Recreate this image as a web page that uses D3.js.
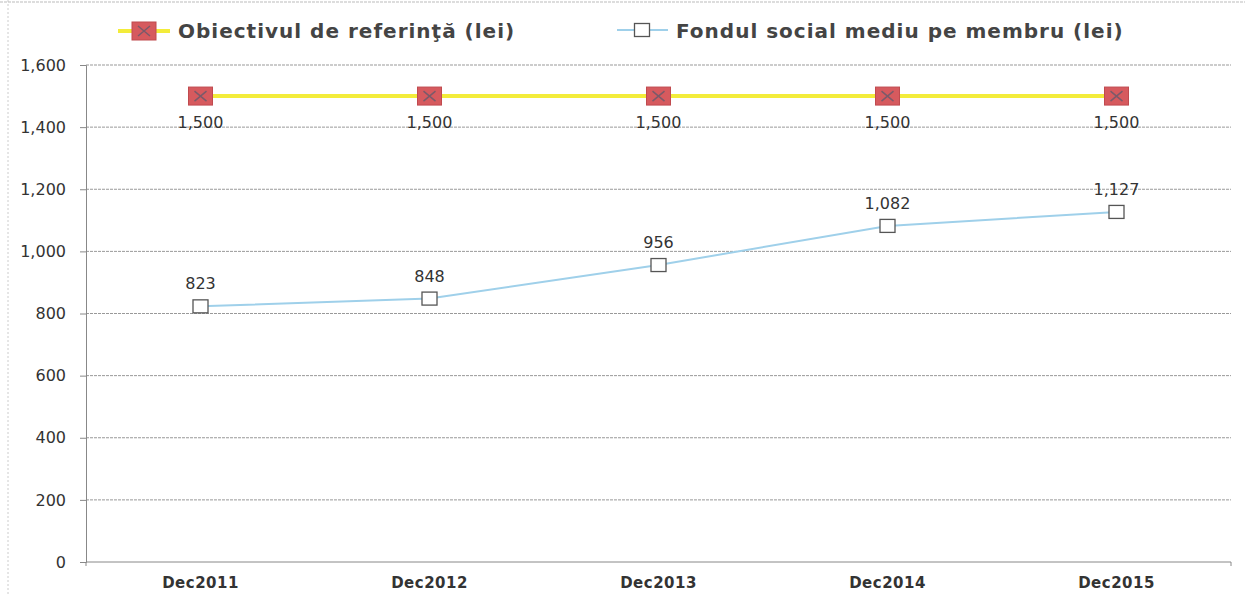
<!DOCTYPE html>
<html>
<head>
<meta charset="utf-8">
<title>Fondul social</title>
<style>
body { margin: 0; background: #fff; }
.axis text { font-family: "DejaVu Sans", Verdana, sans-serif; font-size: 16px; fill: #333; }
.axis path, .axis line { stroke: #888; }
.grid line { stroke: #999; stroke-width: 1; stroke-dasharray: 3,1; }
.lbl { font-family: "DejaVu Sans", Verdana, sans-serif; font-size: 16px; fill: #333; text-anchor: middle; }
.leg { font-family: "DejaVu Sans", Verdana, sans-serif; font-size: 20px; font-weight: bold; fill: #444; letter-spacing: 1px; }
</style>
</head>
<body>
<script src="https://cdn.jsdelivr.net/npm/d3@7"></script>
<script>
var categories = ["Dec2011", "Dec2012", "Dec2013", "Dec2014", "Dec2015"];
var targetValues = [1500, 1500, 1500, 1500, 1500];
var fundValues = [823, 848, 956, 1082, 1127];
var yTicks = [0, 200, 400, 600, 800, 1000, 1200, 1400, 1600];
var seriesNames = ["Obiectivul de referinţă (lei)", "Fondul social mediu pe membru (lei)"];

var width = 1245, height = 595;
var svg = d3.select("body").append("svg")
	.attr("width", width)
	.attr("height", height);

// faint scan border
svg.append("line").attr("x1", 8).attr("x2", 8).attr("y1", 0).attr("y2", height)
	.attr("stroke", "#ccc").attr("stroke-dasharray", "2,2");
svg.append("line").attr("x1", 0).attr("x2", width).attr("y1", 2).attr("y2", 2)
	.attr("stroke", "#bbb").attr("stroke-dasharray", "3,1");

var x = d3.scaleBand().domain(categories).range([86, 1231]);
var y = d3.scaleLinear().domain([0, 1600]).range([562, 65]);
var cx = function(d) { return x(d) + x.bandwidth() / 2; };

// gridlines
svg.append("g").attr("class", "grid")
	.selectAll("line")
	.data(yTicks.slice(1))
	.enter().append("line")
	.attr("x1", 86).attr("x2", 1231)
	.attr("y1", function(d) { return y(d); })
	.attr("y2", function(d) { return y(d); });

var axisY = d3.axisLeft(y).tickValues(yTicks).tickFormat(d3.format(",")).tickSizeOuter(0).tickSize(6).tickPadding(14);
svg.append("g").attr("class", "axis")
	.attr("transform", "translate(86,0)")
	.call(axisY);

var axisX = d3.axisBottom(x).tickSize(0).tickPadding(15);
var gx = svg.append("g").attr("class", "axis")
	.attr("transform", "translate(0,562)")
	.call(axisX);
gx.selectAll("text").style("font-weight", "bold").style("font-size", "15px").style("letter-spacing", "0.5px");
gx.select(".domain").attr("d", "M86,4V0H1231V4");

// lines
var line = d3.line()
	.x(function(d, i) { return cx(categories[i]); })
	.y(function(d) { return y(d); });

svg.append("path").datum(targetValues)
	.attr("d", line)
	.attr("fill", "none")
	.attr("stroke", "#f3ec3a")
	.attr("stroke-width", 4);

svg.append("path").datum(fundValues)
	.attr("d", line)
	.attr("fill", "none")
	.attr("stroke", "#9fd0ea")
	.attr("stroke-width", 2);

function redMarker(g, px, py) {
	g.append("rect").attr("x", px - 12).attr("y", py - 9).attr("width", 24).attr("height", 18)
		.attr("fill", "#d65a5e").attr("stroke", "#c04a4e");
	g.append("path").attr("d", "M" + (px - 6) + "," + (py - 5) + "L" + (px + 6) + "," + (py + 5) +
		"M" + (px - 6) + "," + (py + 5) + "L" + (px + 6) + "," + (py - 5))
		.attr("stroke", "#7a5a6a").attr("stroke-width", 1.5);
}
function whiteMarker(g, px, py) {
	g.append("rect").attr("x", px - 7.5).attr("y", py - 6.5).attr("width", 15).attr("height", 13)
		.attr("fill", "#fff").attr("stroke", "#555").attr("stroke-width", 1.3);
}

var gm = svg.append("g");
targetValues.forEach(function(v, i) {
	redMarker(gm, cx(categories[i]), y(v));
	gm.append("text").attr("class", "lbl")
		.attr("x", cx(categories[i])).attr("y", y(v) + 32)
		.text(d3.format(",")(v));
});
fundValues.forEach(function(v, i) {
	whiteMarker(gm, cx(categories[i]), y(v));
	gm.append("text").attr("class", "lbl")
		.attr("x", cx(categories[i])).attr("y", y(v) - 17)
		.text(d3.format(",")(v));
});

// legend
var lg = svg.append("g");
lg.append("line").attr("x1", 118).attr("x2", 170).attr("y1", 31).attr("y2", 31)
	.attr("stroke", "#f3ec3a").attr("stroke-width", 4);
redMarker(lg, 144, 31);
lg.append("text").attr("class", "leg").attr("x", 178).attr("y", 38).text(seriesNames[0]);

lg.append("line").attr("x1", 617).attr("x2", 668).attr("y1", 30).attr("y2", 30)
	.attr("stroke", "#9fd0ea").attr("stroke-width", 2);
whiteMarker(lg, 642, 30);
lg.append("text").attr("class", "leg").attr("x", 676).attr("y", 38).text(seriesNames[1]);
</script>
</body>
</html>
